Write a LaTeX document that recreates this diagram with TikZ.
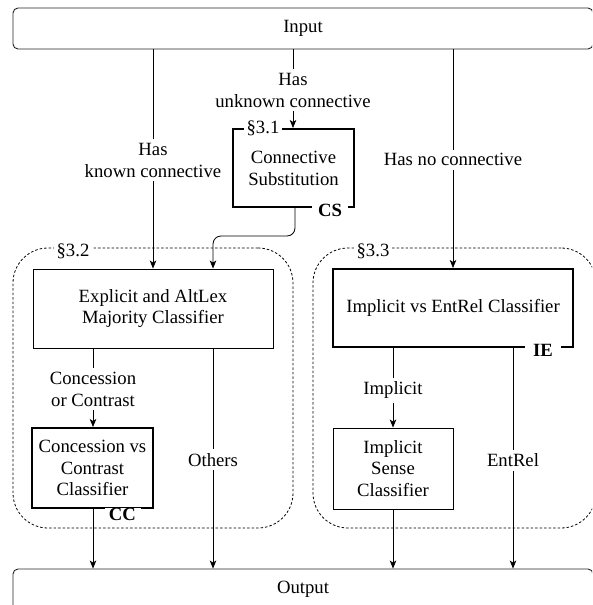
\documentclass[tikz,border=0pt]{standalone}
\usepackage{fontspec}
\setmainfont{Liberation Serif}
\usetikzlibrary{arrows.meta,calc}
\begin{document}
\begin{tikzpicture}[x=1pt,y=-1pt,
 txt/.style={font=\fontsize{18.7}{21.8}\selectfont, align=center},
 iobox/.style={txt, draw=black!85, line width=0.9pt, rounded corners=5pt, inner sep=0pt},
 thinbox/.style={txt, draw, line width=0.9pt, inner sep=0pt},
 thickbox/.style={txt, draw, line width=2pt, inner sep=0pt},
 grp/.style={draw, line width=0.8pt, dash pattern=on 2.5pt off 2pt, rounded corners=35pt, inner sep=0pt},
 arr/.style={-{Stealth[length=8pt,width=6.5pt,inset=2pt]}, line width=0.8pt},
 lbl/.style={txt, fill=white, inner xsep=1pt, inner ysep=4pt},
 sect/.style={txt, fill=white, inner xsep=0pt, inner ysep=0pt, minimum width=38pt},
 tagb/.style={txt, font=\fontsize{18.7}{21.8}\selectfont\bfseries, fill=white, inner xsep=0pt, inner ysep=0pt, minimum width=36pt},
]
\useasboundingbox (0,0) rectangle (592,605);
\clip (0,0) rectangle (592,605);

% groups
\node[grp, minimum width=280pt, minimum height=280pt] (g1) at (153,388) {};
\node[grp, minimum width=283pt, minimum height=280pt] (g2) at (454.5,388) {};

% boxes
\node[iobox, minimum width=580pt, minimum height=41pt] (input) at (303,28.5) {Input};
\node[iobox, minimum width=580pt, minimum height=41pt] (output) at (303,589.5) {Output};
\node[thickbox, minimum width=121pt, minimum height=78pt] (cs) at (293.5,168) {Connective\\Substitution};
\node[thinbox, minimum width=240pt, minimum height=79pt] (expl) at (153,308.5) {Explicit and AltLex\\Majority Classifier};
\node[thickbox, minimum width=240pt, minimum height=78pt] (ie) at (453,308) {Implicit vs EntRel Classifier};
\node[thickbox, minimum width=121pt, minimum height=80pt] (cc) at (92.5,468) {Concession vs\\Contrast\\Classifier};
\node[thinbox, minimum width=120pt, minimum height=81pt] (isc) at (393,468.5) {Implicit\\Sense\\Classifier};

% x positions of connectors
\coordinate (xA) at (153,0);
\coordinate (xB) at (293,0);
\coordinate (xC) at (453,0);
\coordinate (xD) at (93,0);
\coordinate (xE) at (213,0);
\coordinate (xF) at (393,0);
\coordinate (xG) at (513,0);
\coordinate (xH) at (295,0);
\coordinate (bend) at (0,236);

% connectors
\draw[arr] (input.south -| xA) -- node[lbl, pos=0.505]{Has\\known connective} (expl.north -| xA);
\draw[arr] (input.south -| xB) -- node[lbl, pos=0.52]{Has\\unknown connective} (cs.north -| xB);
\draw[arr] (input.south -| xC) -- node[lbl, pos=0.505]{Has no connective} (ie.north -| xC);
\draw[arr, rounded corners=8pt] (cs.south -| xH) -- (bend -| xH) -- (bend -| xE) -- (expl.north -| xE);
\draw[arr] (expl.south -| xD) -- node[lbl, pos=0.52]{Concession\\or Contrast} (cc.north -| xD);
\draw[arr] (expl.south -| xE) -- node[lbl, pos=0.505]{Others} (output.north -| xE);
\draw[arr] (ie.south -| xF) -- node[lbl, pos=0.53]{Implicit} (isc.north -| xF);
\draw[arr] (ie.south -| xG) -- node[lbl, pos=0.51]{EntRel} (output.north -| xG);
\draw[arr] (cc.south -| xD) -- (output.north -| xD);
\draw[arr] (isc.south -| xF) -- (output.north -| xF);

% tags
\node[sect] (s31) at (263,128) {§3.1};
\node[sect] (s32) at (73,251) {§3.2};
\node[sect] (s33) at (373,251) {§3.3};
\node[tagb] (tcs) at (330,210) {CS};
\node[tagb] (tie) at (543,350) {IE};
\node[tagb] (tcc) at (122.5,514) {CC};
\end{tikzpicture}
\end{document}
